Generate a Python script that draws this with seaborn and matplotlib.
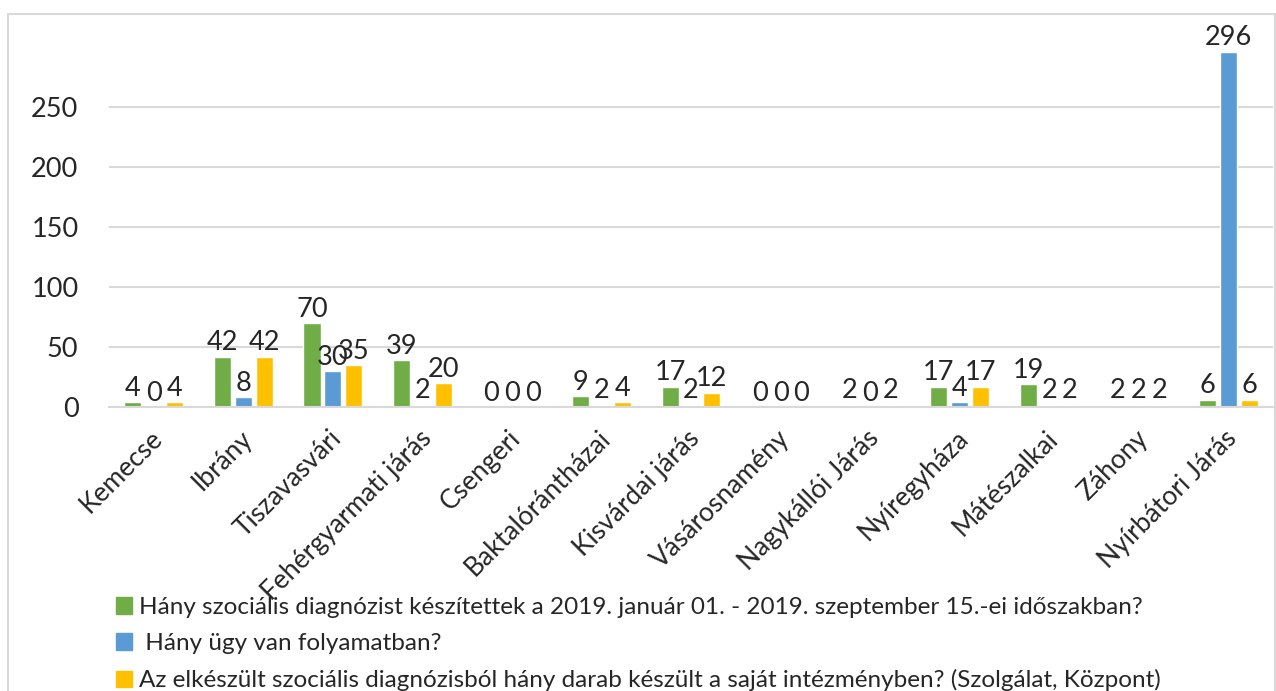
import pandas as pd
import matplotlib
matplotlib.use('Agg')
import matplotlib.pyplot as plt
import matplotlib.patches as mpatches
import matplotlib.transforms as mtransforms
import seaborn as sns

# adatok
jarasok = ['Kemecse', 'Ibrány', 'Tiszavasvári', 'Fehérgyarmati járás', 'Csengeri',
           'Baktalórántházai', 'Kisvárdai járás', 'Vásárosnamény', 'Nagykállói Járás',
           'Nyíregyháza', 'Mátészalkai', 'Záhony', 'Nyírbátori Járás']
keszitett = [4, 42, 70, 39, 0, 9, 17, 0, 2, 17, 19, 2, 6]
folyamatban = [0, 8, 30, 2, 0, 2, 2, 0, 0, 4, 2, 2, 296]
sajat = [4, 42, 35, 20, 0, 4, 12, 0, 2, 17, 2, 2, 6]

sorozatok = ['Hány szociális diagnózist készítettek a 2019. január 01. - 2019. szeptember 15.-ei időszakban?',
             ' Hány ügy van folyamatban?',
             'Az elkészült szociális diagnózisból hány darab készült a saját intézményben? (Szolgálat, Központ)']
szinek = ['#70AD47', '#5B9BD5', '#FFC000']

df = pd.DataFrame({
    'Járás': jarasok * 3,
    'Érték': keszitett + folyamatban + sajat,
    'Sorozat': [s for s in sorozatok for _ in jarasok],
})

sns.set_style('white')
plt.rcParams['font.family'] = ['Lato', 'DejaVu Sans']

fig = plt.figure(figsize=(12.76, 6.91), dpi=100)
ax = fig.add_axes([109 / 1276, 1 - 407 / 691, (1273 - 109) / 1276, 360 / 691])

sns.barplot(data=df, x='Járás', y='Érték', hue='Sorozat', palette=szinek,
            width=0.7, gap=0.18, ax=ax, legend=False, saturation=1)

for c in ax.containers:
    ax.bar_label(c, fmt='%d', padding=1, fontsize=19.5)

ax.set_ylim(0, 300)
ax.set_yticks([0, 50, 100, 150, 200, 250])
ax.yaxis.grid(True, color='#d9d9d9', linewidth=1.5)
ax.set_axisbelow(True)
for s in ['top', 'right', 'left']:
    ax.spines[s].set_visible(False)
ax.spines['bottom'].set_color('#d9d9d9')
ax.spines['bottom'].set_linewidth(1.5)
ax.set_xlabel('')
ax.set_ylabel('')
ax.tick_params(axis='y', labelsize=19.5, length=0, pad=22)
ax.tick_params(axis='x', labelsize=19, length=0, pad=20)
eltolas = mtransforms.ScaledTranslation(5 / 100, 0, fig.dpi_scale_trans)
for t in ax.get_xticklabels():
    t.set_rotation(45)
    t.set_ha('right')
    t.set_va('center')
    t.set_rotation_mode('anchor')
    t.set_transform(t.get_transform() + eltolas)

handles = [mpatches.Patch(color=c) for c in szinek]
fig.legend(handles, sorozatok, loc='upper left', bbox_to_anchor=(116 / 1276, 1 - 597 / 691),
           frameon=False, fontsize=17.5, handlelength=0.65, handleheight=0.65,
           handletextpad=0.3, labelspacing=0.62, borderpad=0, borderaxespad=0)

# keret
fig.patches.append(mpatches.Rectangle((8 / 1276, -0.1), (1275 - 8) / 1276, 1.1 - 14 / 691,
                                      transform=fig.transFigure, fill=False,
                                      edgecolor='#d9d9d9', linewidth=1.5))

fig.savefig('out.png', dpi=100)
